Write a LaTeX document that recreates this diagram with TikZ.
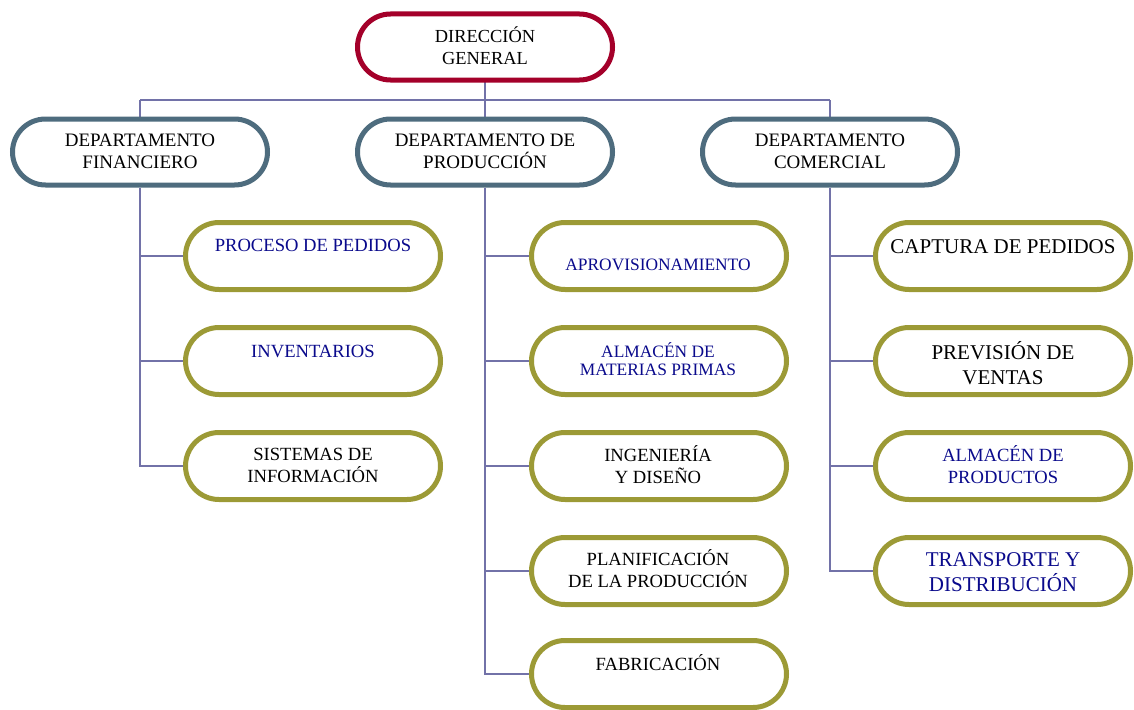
\documentclass[tikz,border=0pt]{standalone}
\usepackage{fontspec}
\setmainfont{Liberation Serif}
\definecolor{topred}{HTML}{A4002A}
\definecolor{deptblue}{HTML}{4E6C7E}
\definecolor{olive}{HTML}{9C9A36}
\definecolor{linkc}{HTML}{7272A8}
\definecolor{navy}{HTML}{0A0A8C}
\tikzset{
  pill/.style={draw, fill=white, line width=5pt, rectangle, rounded corners=33pt,
    minimum width=255pt, minimum height=66pt, inner sep=0pt},
  topbox/.style={pill, draw=topred},
  deptbox/.style={pill, draw=deptblue},
  unitbox/.style={pill, draw=olive, minimum height=67pt, rounded corners=33.5pt},
  link/.style={draw=linkc, line width=1.8pt},
  lbl/.style={align=center, inner sep=0pt, font=\fontsize{18.6}{22}\selectfont},
  lbltop/.style={lbl, font=\fontsize{18.4}{22}\selectfont},
  lbldept/.style={lbl, font=\fontsize{19}{22}\selectfont},
  lblsm/.style={lbl, font=\fontsize{17.4}{18}\selectfont},
  lblbig/.style={lbl, font=\fontsize{21}{25}\selectfont},
  blue/.style={text=navy},
}
\begin{document}
\begin{tikzpicture}[x=1pt, y=-1pt]
\useasboundingbox (0,0) rectangle (1134,709);
\clip (0,0) rectangle (1134,709);

% junction points of the tree
\coordinate (bar) at (485,100);
\coordinate (barL) at (140,100);
\coordinate (barR) at (830,100);

% connectors (drawn first so the boxes cover their ends)
\draw[link] (485,47) -- (bar);
\draw[link] (barL) -- (barR);
\draw[link] (barL) -- (140,152);
\draw[link] (barR) -- (830,152);
\draw[link] (485,100) -- (485,152);

% boxes
\node[topbox] (dg) at (485,47) {};
\node[deptbox] (fin) at (140,152) {};
\node[deptbox] (pro) at (485,152) {};
\node[deptbox] (com) at (830,152) {};

\node[unitbox] (ped) at (313,256) {};
\node[unitbox] (inv) at (313,361) {};
\node[unitbox] (sis) at (313,466) {};

\node[unitbox] (apr) at (659,256) {};
\node[unitbox] (alm) at (659,361) {};
\node[unitbox] (ing) at (659,466) {};
\node[unitbox] (pla) at (659,571) {};
\node[unitbox] (fab) at (659,674) {};

\node[unitbox] (cap) at (1003,256) {};
\node[unitbox] (pre) at (1003,361) {};
\node[unitbox] (alp) at (1003,466) {};
\node[unitbox] (tra) at (1003,571) {};

% department branches
\draw[link] (fin.south) |- (sis.west);
\draw[link] (fin.south |- ped.west) -- (ped.west);
\draw[link] (fin.south |- inv.west) -- (inv.west);

\draw[link] (pro.south) |- (fab.west);
\draw[link] (pro.south |- apr.west) -- (apr.west);
\draw[link] (pro.south |- alm.west) -- (alm.west);
\draw[link] (pro.south |- ing.west) -- (ing.west);
\draw[link] (pro.south |- pla.west) -- (pla.west);

\draw[link] (com.south) |- (tra.west);
\draw[link] (com.south |- cap.west) -- (cap.west);
\draw[link] (com.south |- pre.west) -- (pre.west);
\draw[link] (com.south |- alp.west) -- (alp.west);

% texts
\node[lbltop] (tdg) at (485,46) {DIRECCIÓN\\GENERAL};
\node[lbldept] (tfin) at (140,151) {DEPARTAMENTO\\FINANCIERO};
\node[lbldept] (tpro) at (485,151) {DEPARTAMENTO DE\\PRODUCCIÓN};
\node[lbldept] (tcom) at (830,151) {DEPARTAMENTO\\COMERCIAL};

\node[lbl, blue] (tped) at (313,245) {PROCESO DE PEDIDOS};
\node[lbl, blue] (tinv) at (313,351) {INVENTARIOS};
\node[lbl] (tsis) at (313,465) {SISTEMAS DE\\INFORMACIÓN};

\node[lblsm, blue] (tapr) at (658,265) {APROVISIONAMIENTO};
\node[lblsm, blue] (talm) at (658,359) {ALMACÉN DE\\MATERIAS PRIMAS};
\node[lbl] (ting) at (658,465) {INGENIERÍA\\Y DISEÑO};
\node[lbl] (tpla) at (658,569) {PLANIFICACIÓN\\DE LA PRODUCCIÓN};
\node[lbl] (tfab) at (658,663) {FABRICACIÓN};

\node[lblbig] (tcap) at (1003,247) {CAPTURA DE PEDIDOS};
\node[lblbig] (tpre) at (1003,363) {PREVISIÓN DE\\VENTAS};
\node[lbl, blue] (talp) at (1003,465) {ALMACÉN DE\\PRODUCTOS};
\node[lblbig, blue] (ttra) at (1003,572) {TRANSPORTE Y\\DISTRIBUCIÓN};
\end{tikzpicture}
\end{document}
